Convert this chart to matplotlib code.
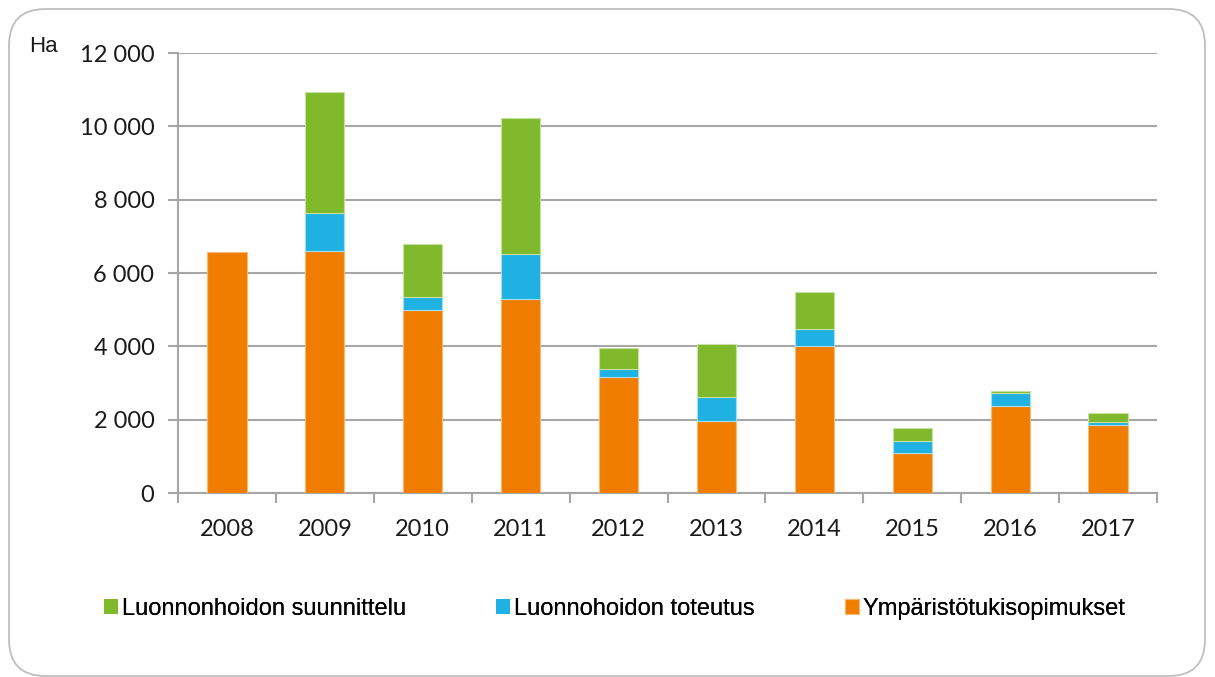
import matplotlib
matplotlib.use("Agg")
import matplotlib.pyplot as plt
from matplotlib.patches import FancyBboxPatch
import numpy as np

years = ["2008", "2009", "2010", "2011", "2012", "2013", "2014", "2015", "2016", "2017"]
ymparisto = [6560, 6610, 4990, 5280, 3160, 1960, 4020, 1100, 2385, 1845]
toteutus = [0, 1020, 360, 1225, 230, 650, 460, 320, 335, 100]
suunnittelu = [0, 3305, 1450, 3720, 575, 1465, 1000, 365, 65, 230]

c_orange = "#F07D00"
c_blue = "#1FB1E1"
c_green = "#80B92C"
grid_c = "#A6A6A6"

W, H = 1215, 677
fig = plt.figure(figsize=(W / 100, H / 100), dpi=100)

# rounded border
box = FancyBboxPatch((9 / W, 1 - 676 / H), (1205 - 9) / W, (676 - 9) / H,
                     boxstyle="round,pad=0,rounding_size=0.03",
                     transform=fig.transFigure, facecolor="none",
                     edgecolor="#BFBFBF", linewidth=1.3, mutation_aspect=W / H)
fig.patches.append(box)

ax = fig.add_axes([178 / W, 1 - 493 / H, (1157 - 178) / W, (493 - 53) / H])
ax.set_facecolor("none")
x = np.arange(len(years))
bw = 0.4
o = np.array(ymparisto)
b = np.array(toteutus)
g = np.array(suunnittelu)


def edges(vals, col):
    return [col if v > 0 else "none" for v in vals]


h_o = ax.bar(x, o, bw, color=c_orange, edgecolor=edges(o, "#F7B97A"), linewidth=0.8, zorder=3)
h_b = ax.bar(x, b, bw, bottom=o, color=c_blue, edgecolor=edges(b, "#A8DDF2"), linewidth=0.8, zorder=3)
h_g = ax.bar(x, g, bw, bottom=o + b, color=c_green, edgecolor=edges(g, "#C6E0A0"), linewidth=0.8, zorder=3)

ax.set_xlim(-0.5, len(years) - 0.5)
ax.set_ylim(0, 12000)
yt = np.arange(0, 12001, 2000)
ax.set_yticks(yt)
ax.set_yticklabels(["0" if v == 0 else f"{v // 1000} {v % 1000:03d}" for v in yt],
                   fontsize=17, family="Lato", color="#1a1a1a")
ax.set_xticks(x)
ax.set_xticklabels(years, fontsize=17, family="Lato", color="#1a1a1a")
ax.set_xticks(np.arange(-0.5, len(years), 1), minor=True)
ax.tick_params(axis="x", which="major", length=0, pad=19)
ax.tick_params(axis="x", which="minor", length=7, color=grid_c, width=1.5)
ax.tick_params(axis="y", length=7, color=grid_c, width=1.5, pad=10)
ax.grid(axis="y", color=grid_c, linewidth=1.5, zorder=0)
for s in ["top", "right"]:
    ax.spines[s].set_visible(False)
for s in ["left", "bottom"]:
    ax.spines[s].set_color(grid_c)
    ax.spines[s].set_linewidth(1.5)

fig.text(29 / W, 1 - 47 / H, "Ha", fontsize=16, family="Liberation Sans",
         va="center", ha="left", color="#1a1a1a")

# legend entries
entries = [(h_g, "Luonnonhoidon suunnittelu", 104),
           (h_b, "Luonnohoidon toteutus", 496),
           (h_o, "Ympäristötukisopimukset", 845)]
for handle, label, px in entries:
    lg = fig.legend([handle], [label], loc="center left",
                    bbox_to_anchor=(px / W, 1 - 609 / H), frameon=False,
                    prop={"family": "Liberation Sans", "size": 17},
                    handlelength=0.6, handleheight=0.6, handletextpad=0.15,
                    borderaxespad=0, borderpad=0)
    fig.add_artist(lg)

fig.savefig("out.png", dpi=100)
